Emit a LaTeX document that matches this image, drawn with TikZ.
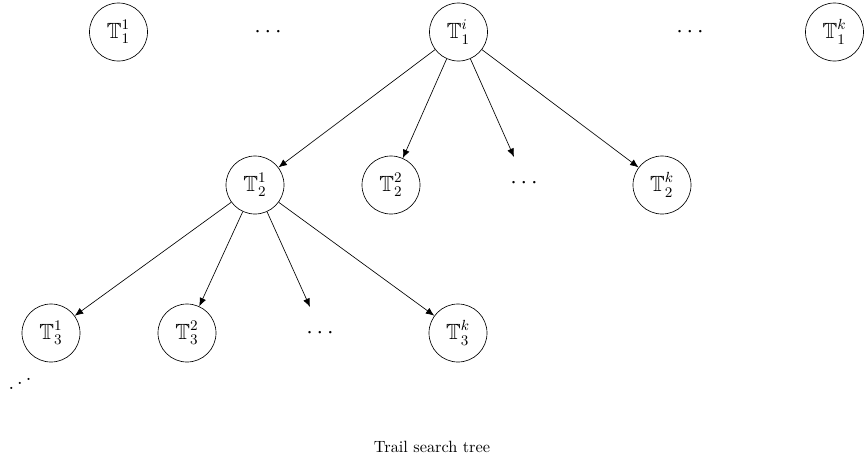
\documentclass[tikz,border=0pt]{standalone}
\usepackage{amssymb}
\usetikzlibrary{arrows.meta}
\begin{document}
\begin{tikzpicture}[x=0.6135pt,y=-0.6135pt,
  big/.style={font=\fontsize{13.5pt}{16pt}\selectfont},
  tnode/.style={draw,circle,minimum size=35.6pt,inner sep=0pt,big},
  dotsnode/.style={big,inner sep=0pt},
  edge/.style={-{Latex[length=5.2pt,width=4.2pt]}}]
\useasboundingbox (0,0) rectangle (864,464);
% row 1
\node[tnode] (t11) at (118.5,32) {$\mathbb{T}_1^1$};
\node[dotsnode] (d11) at (268,32) {$\cdots$};
\node[tnode] (t1i) at (458.5,32) {$\mathbb{T}_1^i$};
\node[dotsnode] (d12) at (690,32) {$\cdots$};
\node[tnode] (t1k) at (834.5,32) {$\mathbb{T}_1^k$};
% row 2
\node[tnode] (t21) at (255,185) {$\mathbb{T}_2^1$};
\node[tnode] (t22) at (391,185) {$\mathbb{T}_2^2$};
\node[dotsnode] (d2) at (524,183) {$\cdots$};
\coordinate (e2) at (514,157);
\node[tnode] (t2k) at (662,185) {$\mathbb{T}_2^k$};
% row 3
\node[tnode] (t31) at (51,333) {$\mathbb{T}_3^1$};
\node[tnode] (t32) at (187,333) {$\mathbb{T}_3^2$};
\node[dotsnode] (d3) at (320,333) {$\cdots$};
\coordinate (e3) at (310,307);
\node[tnode] (t3k) at (458,333) {$\mathbb{T}_3^k$};
\node[dotsnode] (dd) at (20,379) {\reflectbox{$\ddots$}};
% edges
\draw[edge] (t1i) -- (t21);
\draw[edge] (t1i) -- (t22);
\draw[edge] (t1i) -- (e2);
\draw[edge] (t1i) -- (t2k);
\draw[edge] (t21) -- (t31);
\draw[edge] (t21) -- (t32);
\draw[edge] (t21) -- (e3);
\draw[edge] (t21) -- (t3k);
% caption
\node (cap) at (432,447) {Trail search tree};
\end{tikzpicture}
\end{document}
